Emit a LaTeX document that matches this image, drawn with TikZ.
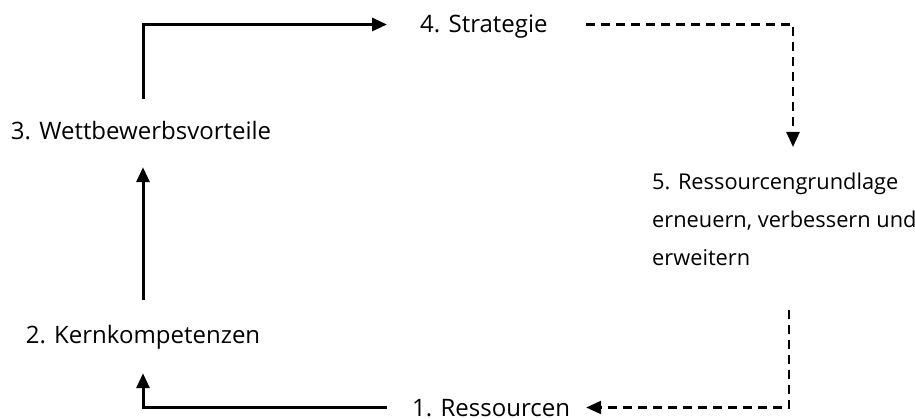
\documentclass[tikz,border=0pt]{standalone}
\usepackage{fontspec}
\setmainfont{Open Sans}
\usetikzlibrary{arrows.meta}
\tikzset{
  lbl/.style={font=\fontsize{24}{38}\selectfont, inner sep=0pt, text height=17pt, text depth=0pt},
  multilbl/.style={font=\fontsize{21.8}{38}\selectfont, inner sep=0pt, align=left},
  solidarr/.style={line width=3pt, -{Triangle[length=15pt,width=13pt]}},
  dasharr/.style={line width=2.5pt, dash pattern=on 9pt off 6pt, -{Triangle[length=15pt,width=13pt]}}
}
\begin{document}
\begin{tikzpicture}[x=1pt,y=-1pt]
\useasboundingbox (0,0) rectangle (915,419);
\node[lbl, anchor=base west] (s) at (420,33) {4. Strategie};
\node[lbl, anchor=base] (w) at (141,140) {3. Wettbewerbsvorteile};
\node[lbl, anchor=base] (k) at (143,343) {2. Kernkompetenzen};
\node[lbl, anchor=base west] (r) at (412,416) {1. Ressourcen};
\node[multilbl, anchor=base west] (g) at (652,266) {5. Ressourcengrundlage\\erneuern, verbessern und\\erweitern};

\draw[solidarr] ([xshift=2pt,yshift=24pt]w.north) |- ([xshift=-33pt]s.west);
\draw[solidarr] ([yshift=26pt]k.north) -- ([xshift=2pt,yshift=-27pt]w.south);
\draw[solidarr] ([xshift=-25pt]r.west) -| ([yshift=-30pt]k.south);
\draw[dasharr] ([xshift=38pt]s.east) -| ([xshift=141pt,yshift=119pt]g.base west);
\draw[dasharr] ([xshift=137pt,yshift=-44pt]g.base west) |- ([xshift=16pt]r.east);
\end{tikzpicture}
\end{document}
